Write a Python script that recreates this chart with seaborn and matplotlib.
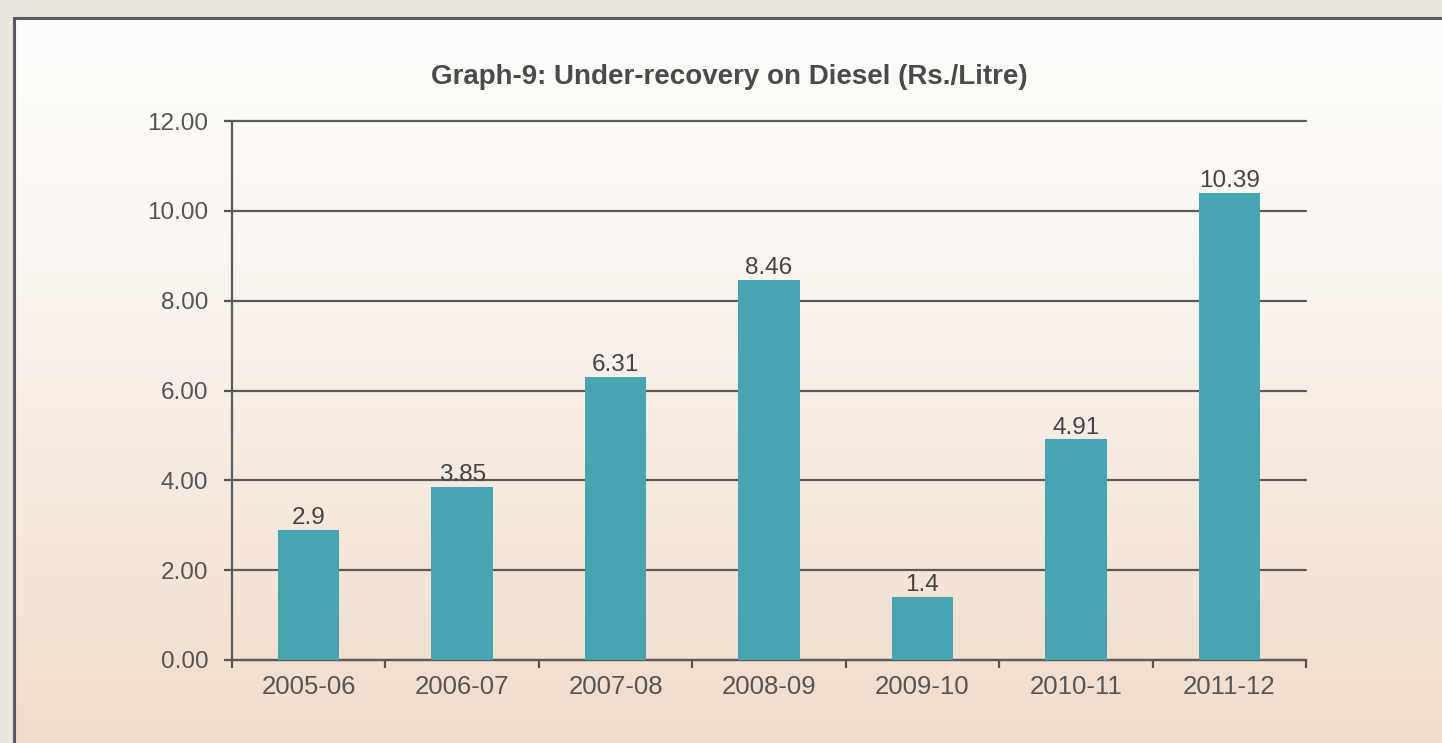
import numpy as np
import pandas as pd
import matplotlib
matplotlib.use("Agg")
import matplotlib.pyplot as plt
from matplotlib.colors import LinearSegmentedColormap
from matplotlib.patches import Rectangle
import seaborn as sns

years = ["2005-06", "2006-07", "2007-08", "2008-09", "2009-10", "2010-11", "2011-12"]
under_recovery = [2.9, 3.85, 6.31, 8.46, 1.4, 4.91, 10.39]
value_labels = ["2.9", "3.85", "6.31", "8.46", "1.4", "4.91", "10.39"]
y_ticks = [0, 2, 4, 6, 8, 10, 12]

sns.set_theme(style="white")
plt.rcParams["font.family"] = ["Liberation Sans", "DejaVu Sans"]

fig = plt.figure(figsize=(14.42, 7.43), dpi=100)
fig.patch.set_facecolor("#ece6e0")

# page background: soft vertical gradient from off-white to peach
bg = fig.add_axes([14 / 1442, 0, 1 - 14 / 1442, 1 - 18 / 743], zorder=0)
grad = np.linspace(0, 1, 256).reshape(-1, 1)
cmap = LinearSegmentedColormap.from_list(
    "page", ["#fefdfb", "#fbf6f1", "#f6e9de", "#f1dccb"])
bg.imshow(grad, aspect="auto", cmap=cmap, extent=[0, 1, 0, 1], origin="upper")
bg.set_axis_off()

# frame around the panel
fig.add_artist(Rectangle((14 / 1442, -0.05), 1.2, 1 - 18 / 743 + 0.05,
                         transform=fig.transFigure, fill=False,
                         edgecolor="#5a5a5a", linewidth=2.2, zorder=1))

ax = fig.add_axes([232 / 1442, 83 / 743, 1074 / 1442, 539 / 743], zorder=2)
ax.set_facecolor("none")

df = pd.DataFrame({"year": years, "value": under_recovery})
sns.barplot(data=df, x="year", y="value", color="#47a5b1", saturation=1,
            width=0.4, linewidth=0, ax=ax, zorder=3)

ax.set_xlim(-0.5, len(years) - 0.5)
ax.set_ylim(0, 12)
ax.set_yticks(y_ticks)
ax.set_yticklabels([f"{t:.2f}" for t in y_ticks], fontsize=17.5, color="#555555")
ax.set_xticks(range(len(years)))
ax.set_xticklabels(years, fontsize=18.5, color="#555555")
ax.set_xticks(np.arange(-0.5, len(years)), minor=True)
ax.tick_params(axis="x", which="both", bottom=True)
ax.tick_params(axis="x", which="major", length=0, pad=11)
ax.tick_params(axis="x", which="minor", length=6, width=1.6, color="#555555",
               direction="out")
ax.tick_params(axis="y", left=True, length=6, width=1.6, color="#555555",
               direction="out", pad=11)
ax.set_xlabel("")
ax.set_ylabel("")

# horizontal gridlines drawn beneath the bars
for t in y_ticks:
    ax.axhline(t, color="#5a5a5a", linewidth=1.6, zorder=1, clip_on=False)

for side in ["top", "right"]:
    ax.spines[side].set_visible(False)
for side in ["left", "bottom"]:
    ax.spines[side].set_color("#5a5a5a")
    ax.spines[side].set_linewidth(1.6)

for i, (v, lab) in enumerate(zip(under_recovery, value_labels)):
    ax.text(i, v + 0.02, lab, ha="center", va="bottom", fontsize=17.5,
            color="#444444", zorder=4)

fig.text(0.506, 0.897, "Graph-9: Under-recovery on Diesel (Rs./Litre)",
         ha="center", va="center", fontsize=20, fontweight="bold",
         color="#4a4a4a")

fig.savefig("out.png", dpi=100)
